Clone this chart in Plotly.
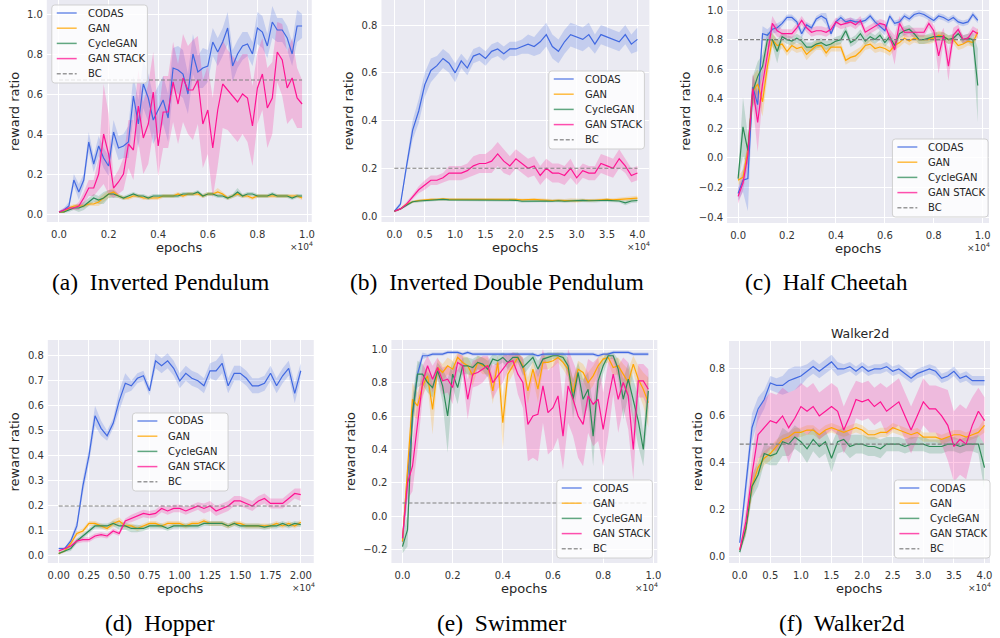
import numpy as np
import plotly.graph_objects as go

# ---------------- data (x in units of 1e4 epochs) ----------------
X_A = np.round(np.arange(50) * 0.02, 2)
X_B = np.round(np.arange(41) * 0.1, 2)
X_C = np.round(np.arange(50) * 0.02, 2)
X_D = np.round(np.arange(41) * 0.05, 2)
X_E = np.round(np.arange(50) * 0.02, 2)
X_F = np.round(np.arange(41) * 0.1, 2)

# (a) Inverted Pendulum
CODAS_A = [0.01,0.02,0.04,0.17,0.11,0.17,0.36,0.25,0.34,0.28, 0.24,0.41,0.33,0.34,0.36,0.59,0.45,0.65,0.58,0.47,
           0.52,0.57,0.48,0.73,0.72,0.70,0.60,0.80,0.71,0.73, 0.74,0.86,0.81,0.86,0.93,0.74,0.80,0.84,0.85,0.80,
           0.93,0.91,0.84,0.96,0.92,0.92,0.88,0.80,0.94,0.94]
GAN_A = [0.01,0.01,0.03,0.04,0.04,0.04,0.05,0.05,0.06,0.08, 0.10,0.11,0.09,0.08,0.08,0.09,0.09,0.08,0.08,0.08,
         0.08,0.09,0.09,0.09,0.10,0.09,0.10,0.10,0.10,0.09, 0.10,0.10,0.11,0.10,0.08,0.09,0.10,0.09,0.09,0.08,
         0.09,0.09,0.09,0.09,0.09,0.09,0.09,0.09,0.09,0.08]
CYCLE_A = [0.01,0.01,0.02,0.03,0.03,0.04,0.06,0.08,0.07,0.08, 0.10,0.10,0.09,0.08,0.09,0.10,0.09,0.09,0.08,0.09,
           0.09,0.09,0.09,0.09,0.09,0.10,0.10,0.10,0.11,0.09, 0.10,0.10,0.09,0.09,0.08,0.09,0.11,0.09,0.10,0.10,
           0.09,0.09,0.09,0.10,0.09,0.09,0.09,0.08,0.09,0.09]
STACK_A = [0.01,0.02,0.03,0.03,0.04,0.08,0.13,0.13,0.20,0.40, 0.30,0.13,0.16,0.20,0.35,0.32,0.54,0.38,0.45,0.61,
           0.34,0.51,0.51,0.66,0.55,0.68,0.62,0.62,0.67,0.45, 0.52,0.33,0.52,0.65,0.62,0.59,0.56,0.60,0.58,0.44,
           0.63,0.70,0.53,0.58,0.81,0.77,0.63,0.68,0.58,0.55]
BC_A = 0.67
CODAS_A_W = [0.005,0.01,0.02,0.03,0.04,0.03,0.05,0.04,0.05,0.05, 0.05,0.06,0.06,0.06,0.08,0.10,0.12,0.12,0.12,0.12,
             0.12,0.12,0.12,0.10,0.12,0.12,0.10,0.10,0.08,0.10, 0.08,0.07,0.07,0.07,0.08,0.08,0.07,0.07,0.06,0.06,
             0.08,0.08,0.06,0.08,0.06,0.06,0.06,0.06,0.08,0.06]
GAN_A_W = [0.005,0.005,0.01,0.01,0.01,0.01,0.01,0.01,0.02,0.02, 0.02,0.02,0.01,0.01,0.01,0.01,0.01,0.01,0.01,0.01,
           0.01,0.01,0.01,0.01,0.01,0.01,0.01,0.01,0.01,0.01, 0.01,0.01,0.02,0.01,0.01,0.01,0.01,0.01,0.01,0.01,
           0.01,0.01,0.01,0.01,0.01,0.01,0.01,0.01,0.01,0.01]
CYCLE_A_W = [0.005,0.005,0.01,0.01,0.02,0.02,0.02,0.02,0.02,0.03, 0.02,0.02,0.01,0.01,0.01,0.01,0.01,0.01,0.01,0.01,
             0.01,0.01,0.01,0.01,0.01,0.01,0.01,0.01,0.01,0.01, 0.01,0.01,0.01,0.01,0.01,0.01,0.02,0.01,0.01,0.01,
             0.01,0.01,0.01,0.01,0.01,0.01,0.01,0.01,0.01,0.01]
STACK_A_W = [0.005,0.01,0.01,0.01,0.02,0.03,0.04,0.04,0.08,0.25, 0.20,0.05,0.06,0.08,0.12,0.15,0.18,0.18,0.20,0.20,
             0.15,0.18,0.18,0.20,0.20,0.22,0.22,0.25,0.22,0.22, 0.22,0.25,0.28,0.22,0.20,0.20,0.20,0.20,0.22,0.20,
             0.18,0.18,0.20,0.18,0.15,0.18,0.18,0.20,0.15,0.12]

# (b) Inverted Double Pendulum
CODAS_B = [0.02,0.05,0.21,0.36,0.44,0.55,0.61,0.63,0.66,0.64, 0.60,0.65,0.62,0.67,0.68,0.66,0.69,0.70,0.68,0.70,
           0.70,0.71,0.72,0.71,0.73,0.76,0.71,0.69,0.73,0.76, 0.75,0.74,0.76,0.72,0.76,0.75,0.74,0.73,0.76,0.72,0.74]
GAN_B = [0.02,0.03,0.05,0.06,0.065,0.068,0.07,0.07,0.072,0.07, 0.07,0.07,0.07,0.072,0.07,0.07,0.07,0.07,0.07,0.07,
         0.07,0.068,0.07,0.07,0.068,0.066,0.065,0.066,0.065,0.066, 0.064,0.066,0.065,0.066,0.068,0.07,0.068,0.07,0.072,0.072,0.075]
CYCLE_B = [0.02,0.03,0.045,0.06,0.063,0.065,0.067,0.068,0.07,0.068, 0.068,0.067,0.068,0.068,0.067,0.068,0.068,0.068,0.067,0.066,
           0.066,0.062,0.063,0.064,0.064,0.063,0.062,0.064,0.062,0.064, 0.065,0.066,0.064,0.063,0.065,0.066,0.064,0.063,0.055,0.063,0.065]
STACK_B = [0.02,0.03,0.05,0.08,0.11,0.13,0.15,0.15,0.16,0.18, 0.18,0.18,0.19,0.21,0.22,0.22,0.23,0.26,0.23,0.21,
           0.24,0.22,0.20,0.21,0.17,0.20,0.18,0.18,0.17,0.20, 0.16,0.19,0.18,0.18,0.22,0.21,0.20,0.24,0.21,0.17,0.18]
BC_B = 0.2
CODAS_B_W = [0.005,0.01,0.02,0.04,0.05,0.05,0.05,0.04,0.04,0.04, 0.04,0.03,0.03,0.03,0.03,0.03,0.03,0.03,0.03,0.03,
             0.03,0.03,0.04,0.04,0.05,0.05,0.05,0.05,0.05,0.05, 0.05,0.05,0.05,0.04,0.04,0.04,0.04,0.04,0.04,0.04,0.05]
GAN_B_W = [0.003,0.004,0.005,0.005,0.005,0.005,0.005,0.005,0.005,0.005, 0.005,0.005,0.005,0.005,0.005,0.005,0.005,0.005,0.005,0.005,
           0.005,0.005,0.005,0.005,0.006,0.006,0.006,0.006,0.006,0.008, 0.008,0.006,0.006,0.006,0.006,0.006,0.006,0.006,0.008,0.008,0.01]
CYCLE_B_W = [0.003,0.004,0.005,0.005,0.005,0.005,0.005,0.005,0.005,0.005, 0.005,0.005,0.005,0.005,0.005,0.005,0.005,0.005,0.005,0.006,
             0.006,0.006,0.006,0.006,0.006,0.006,0.006,0.006,0.006,0.006, 0.006,0.006,0.006,0.006,0.006,0.006,0.006,0.006,0.01,0.008,0.008]
STACK_B_W = [0.005,0.005,0.01,0.01,0.015,0.02,0.02,0.02,0.02,0.03, 0.03,0.03,0.03,0.04,0.04,0.04,0.05,0.05,0.05,0.04,
             0.04,0.04,0.04,0.04,0.04,0.04,0.04,0.04,0.04,0.04, 0.03,0.03,0.03,0.03,0.04,0.04,0.04,0.04,0.03,0.03,0.03]

# (c) Half Cheetah
CODAS_C = [-0.24,-0.15,-0.14,0.48,0.36,0.84,0.83,0.87,0.88,0.91, 0.95,0.95,0.92,0.84,0.90,0.88,0.94,0.96,0.94,0.84,
           0.92,0.95,0.92,0.93,0.92,0.92,0.93,0.96,0.92,0.89, 0.86,0.96,0.91,0.92,0.96,0.94,0.97,0.98,0.97,0.95,
           0.93,0.96,0.95,0.93,0.95,0.92,0.91,0.92,0.97,0.93]
GAN_C = [-0.15,-0.13,0.05,0.45,0.50,0.38,0.62,0.80,0.76,0.77, 0.72,0.76,0.74,0.75,0.70,0.73,0.76,0.76,0.71,0.75,
         0.75,0.75,0.66,0.68,0.69,0.72,0.76,0.77,0.74,0.75, 0.74,0.72,0.76,0.78,0.81,0.79,0.81,0.80,0.80,0.80,
         0.81,0.83,0.82,0.80,0.80,0.76,0.77,0.79,0.78,0.85]
CYCLE_C = [-0.14,0.21,0.05,0.45,0.55,0.62,0.80,0.80,0.72,0.82, 0.80,0.79,0.81,0.79,0.75,0.75,0.77,0.78,0.76,0.77,
           0.79,0.80,0.86,0.78,0.80,0.84,0.79,0.82,0.80,0.83, 0.78,0.82,0.76,0.84,0.86,0.87,0.84,0.80,0.80,0.81,
           0.82,0.82,0.82,0.80,0.81,0.84,0.80,0.81,0.80,0.49]
STACK_C = [-0.26,-0.17,0.02,0.47,0.24,0.50,0.70,0.91,0.86,0.84, 0.84,0.84,0.88,0.93,0.88,0.85,0.86,0.86,0.85,0.87,
           0.92,0.90,0.91,0.92,0.90,0.93,0.85,0.87,0.89,0.91, 0.90,0.82,0.73,0.91,0.85,0.85,0.85,0.85,0.85,0.91,
           0.86,0.69,0.83,0.62,0.83,0.87,0.80,0.81,0.86,0.84]
BC_C = 0.8
CODAS_C_W = [0.05,0.08,0.22,0.08,0.08,0.05,0.04,0.03,0.03,0.02, 0.02,0.02,0.02,0.03,0.02,0.02,0.02,0.02,0.04,0.02,
             0.02,0.02,0.02,0.02,0.02,0.02,0.02,0.02,0.02,0.03, 0.03,0.02,0.02,0.02,0.02,0.02,0.02,0.02,0.02,0.02,
             0.02,0.02,0.02,0.02,0.02,0.02,0.02,0.02,0.02,0.02]
GAN_C_W = [0.03,0.05,0.06,0.10,0.10,0.10,0.08,0.05,0.04,0.03, 0.03,0.03,0.03,0.03,0.04,0.03,0.03,0.03,0.03,0.03,
           0.03,0.03,0.03,0.03,0.04,0.03,0.03,0.03,0.03,0.03, 0.03,0.03,0.03,0.03,0.03,0.03,0.03,0.03,0.03,0.03,
           0.03,0.03,0.03,0.03,0.03,0.03,0.03,0.03,0.03,0.03]
CYCLE_C_W = [0.03,0.20,0.10,0.10,0.10,0.08,0.05,0.04,0.08,0.03, 0.03,0.03,0.03,0.03,0.03,0.03,0.03,0.03,0.03,0.03,
             0.03,0.03,0.03,0.03,0.03,0.03,0.03,0.03,0.03,0.03, 0.03,0.03,0.03,0.03,0.03,0.03,0.03,0.03,0.03,0.03,
             0.03,0.03,0.03,0.03,0.03,0.03,0.03,0.03,0.05,0.25]
STACK_C_W = [0.05,0.05,0.08,0.10,0.20,0.10,0.08,0.05,0.04,0.03, 0.03,0.03,0.03,0.03,0.03,0.03,0.03,0.03,0.03,0.03,
             0.03,0.03,0.03,0.03,0.03,0.03,0.03,0.03,0.03,0.03, 0.03,0.05,0.10,0.05,0.03,0.03,0.03,0.03,0.03,0.03,
             0.04,0.12,0.05,0.10,0.05,0.03,0.03,0.03,0.03,0.03]

# (d) Hopper
CODAS_D = [0.03,0.03,0.06,0.12,0.28,0.40,0.56,0.51,0.48,0.53, 0.62,0.69,0.68,0.71,0.72,0.66,0.78,0.76,0.78,0.75,
           0.70,0.73,0.71,0.70,0.68,0.74,0.74,0.77,0.68,0.73, 0.73,0.71,0.68,0.68,0.69,0.73,0.68,0.72,0.75,0.65,0.74]
GAN_D = [0.01,0.02,0.05,0.09,0.10,0.13,0.13,0.12,0.11,0.13, 0.14,0.12,0.12,0.11,0.12,0.13,0.13,0.12,0.13,0.13,
         0.13,0.12,0.13,0.13,0.14,0.13,0.13,0.13,0.12,0.13, 0.13,0.12,0.12,0.12,0.12,0.12,0.13,0.12,0.13,0.12,0.135]
CYCLE_D = [0.01,0.02,0.03,0.06,0.08,0.10,0.12,0.12,0.12,0.13, 0.12,0.12,0.11,0.11,0.11,0.12,0.12,0.12,0.11,0.12,
           0.12,0.12,0.12,0.12,0.13,0.13,0.13,0.13,0.12,0.13, 0.12,0.12,0.12,0.12,0.115,0.12,0.12,0.13,0.12,0.13,0.125]
STACK_D = [0.02,0.03,0.04,0.06,0.065,0.065,0.08,0.085,0.08,0.10, 0.09,0.14,0.15,0.16,0.17,0.165,0.17,0.19,0.18,0.19,
           0.19,0.18,0.19,0.20,0.19,0.20,0.18,0.19,0.20,0.22, 0.22,0.21,0.20,0.22,0.23,0.21,0.21,0.21,0.23,0.25,0.245]
BC_D = 0.2
CODAS_D_W = [0.005,0.005,0.01,0.02,0.03,0.03,0.04,0.03,0.02,0.02, 0.04,0.04,0.02,0.02,0.02,0.02,0.03,0.03,0.03,0.03,
             0.03,0.03,0.03,0.03,0.03,0.03,0.04,0.04,0.03,0.03, 0.03,0.03,0.03,0.03,0.03,0.03,0.03,0.03,0.03,0.04,0.03]
GAN_D_W = [0.005,0.005,0.01,0.01,0.01,0.01,0.01,0.01,0.01,0.015, 0.015,0.01,0.01,0.01,0.01,0.01,0.01,0.01,0.01,0.01,
           0.01,0.01,0.01,0.01,0.01,0.01,0.01,0.01,0.01,0.01, 0.01,0.01,0.01,0.01,0.01,0.01,0.01,0.01,0.01,0.01,0.01]
CYCLE_D_W = [0.005,0.005,0.01,0.01,0.01,0.01,0.01,0.01,0.01,0.01, 0.015,0.015,0.015,0.015,0.01,0.01,0.01,0.01,0.01,0.01,
             0.01,0.01,0.01,0.01,0.01,0.01,0.01,0.01,0.01,0.01, 0.01,0.01,0.01,0.01,0.01,0.01,0.01,0.01,0.01,0.01,0.01]
STACK_D_W = [0.005,0.005,0.01,0.01,0.01,0.01,0.01,0.01,0.01,0.01, 0.01,0.01,0.015,0.015,0.015,0.015,0.015,0.015,0.015,0.015,
             0.015,0.015,0.015,0.015,0.02,0.02,0.02,0.02,0.02,0.02, 0.02,0.02,0.02,0.02,0.02,0.02,0.02,0.02,0.02,0.02,0.025]

# (e) Swimmer
CODAS_E = [-0.15,0.20,0.60,0.85,0.96,0.96,0.97,0.97,0.97,0.98, 0.98,0.98,0.97,0.98,0.97,0.97,0.97,0.97,0.97,0.97,
           0.97,0.97,0.97,0.97,0.97,0.97,0.97,0.96,0.97,0.97, 0.97,0.97,0.97,0.97,0.97,0.97,0.97,0.97,0.97,0.96,
           0.97,0.97,0.98,0.98,0.98,0.98,0.97,0.97,0.97,0.97]
GAN_E = [-0.15,0.25,0.70,0.66,0.78,0.84,0.64,0.89,0.86,0.90, 0.88,0.95,0.92,0.90,0.84,0.92,0.90,0.90,0.75,0.92,
         0.56,0.85,0.90,0.95,0.90,0.75,0.88,0.76,0.92,0.92, 0.93,0.95,0.92,0.88,0.74,0.88,0.86,0.80,0.84,0.90,
         0.94,0.95,0.89,0.90,0.85,0.80,0.91,0.82,0.76,0.68]
CYCLE_E = [-0.18,-0.08,0.62,0.85,0.85,0.80,0.77,0.87,0.78,0.60, 0.85,0.77,0.90,0.90,0.89,0.92,0.91,0.88,0.94,0.93,
           0.95,0.92,0.95,0.95,0.89,0.92,0.95,0.88,0.94,0.95, 0.96,0.96,0.95,0.90,0.70,0.86,0.70,0.76,0.48,0.81,
           0.90,0.96,0.96,0.88,0.70,0.82,0.70,0.57,0.40,0.75]
STACK_E = [-0.13,0.20,0.30,0.55,0.80,0.90,0.82,0.89,0.81,0.82, 0.77,0.92,0.90,0.70,0.85,0.86,0.88,0.90,0.80,0.84,
           0.88,0.92,0.93,0.85,0.80,0.55,0.60,0.61,0.78,0.62, 0.65,0.72,0.48,0.78,0.70,0.60,0.55,0.72,0.67,0.70,
           0.52,0.70,0.85,0.70,0.80,0.72,0.40,0.81,0.81,0.76]
BC_E = 0.08
CODAS_E_W = [0.04,0.10,0.10,0.05,0.02,0.01,0.01,0.01,0.01,0.01, 0.01,0.01,0.01,0.01,0.01,0.01,0.01,0.01,0.01,0.01,
             0.01,0.01,0.01,0.01,0.01,0.01,0.01,0.01,0.01,0.01, 0.01,0.01,0.01,0.01,0.01,0.01,0.01,0.01,0.01,0.01,
             0.01,0.01,0.01,0.01,0.01,0.01,0.01,0.01,0.01,0.01]
GAN_E_W = [0.05,0.10,0.10,0.08,0.06,0.06,0.15,0.05,0.05,0.05, 0.05,0.03,0.04,0.05,0.06,0.04,0.05,0.05,0.08,0.04,
           0.16,0.06,0.05,0.03,0.05,0.08,0.05,0.08,0.04,0.04, 0.04,0.03,0.04,0.05,0.08,0.05,0.05,0.06,0.06,0.05,
           0.03,0.03,0.05,0.05,0.06,0.08,0.05,0.08,0.10,0.15]
CYCLE_E_W = [0.04,0.10,0.10,0.08,0.06,0.06,0.06,0.05,0.10,0.22, 0.08,0.10,0.05,0.05,0.05,0.04,0.04,0.05,0.03,0.03,
             0.03,0.04,0.03,0.03,0.05,0.04,0.03,0.05,0.03,0.03, 0.02,0.02,0.03,0.05,0.12,0.06,0.12,0.10,0.18,0.08,
             0.05,0.02,0.02,0.06,0.12,0.10,0.12,0.15,0.10,0.12]
STACK_E_W = [0.05,0.10,0.15,0.15,0.10,0.06,0.08,0.06,0.08,0.08, 0.10,0.05,0.06,0.12,0.08,0.08,0.08,0.06,0.10,0.08,
             0.08,0.05,0.05,0.12,0.15,0.22,0.25,0.28,0.22,0.25, 0.25,0.25,0.20,0.22,0.22,0.25,0.25,0.22,0.25,0.25,
             0.22,0.22,0.12,0.20,0.15,0.20,0.18,0.10,0.10,0.12]

# (f) Walker2d
CODAS_F = [0.06,0.30,0.55,0.63,0.67,0.74,0.73,0.73,0.75,0.76, 0.77,0.79,0.81,0.79,0.81,0.83,0.80,0.80,0.81,0.79,
           0.81,0.79,0.80,0.80,0.81,0.79,0.80,0.78,0.76,0.78, 0.79,0.80,0.79,0.76,0.77,0.79,0.76,0.77,0.75,0.75,0.75]
GAN_F = [0.03,0.12,0.30,0.38,0.42,0.44,0.47,0.50,0.51,0.53, 0.53,0.54,0.54,0.52,0.54,0.55,0.54,0.53,0.54,0.55,
         0.54,0.52,0.52,0.53,0.53,0.55,0.54,0.53,0.52,0.53, 0.51,0.51,0.51,0.50,0.51,0.52,0.52,0.51,0.52,0.53,0.56]
CYCLE_F = [0.02,0.12,0.30,0.35,0.44,0.43,0.44,0.49,0.48,0.51, 0.49,0.46,0.50,0.47,0.49,0.42,0.49,0.50,0.47,0.48,
           0.48,0.47,0.47,0.46,0.48,0.48,0.48,0.47,0.48,0.48, 0.48,0.47,0.47,0.47,0.48,0.48,0.47,0.48,0.48,0.48,0.38]
STACK_F = [0.03,0.15,0.35,0.52,0.55,0.58,0.57,0.60,0.55,0.59, 0.64,0.62,0.64,0.60,0.62,0.64,0.62,0.54,0.60,0.67,
           0.66,0.67,0.64,0.66,0.62,0.64,0.66,0.60,0.54,0.60, 0.66,0.63,0.63,0.60,0.56,0.47,0.50,0.48,0.56,0.62,0.58]
BC_F = 0.48
CODAS_F_W = [0.02,0.05,0.06,0.05,0.04,0.03,0.03,0.04,0.05,0.05, 0.04,0.03,0.03,0.03,0.03,0.03,0.03,0.02,0.02,0.02,
             0.02,0.02,0.02,0.02,0.02,0.02,0.02,0.02,0.02,0.02, 0.02,0.02,0.02,0.02,0.02,0.02,0.02,0.02,0.02,0.02,0.02]
GAN_F_W = [0.01,0.03,0.04,0.04,0.03,0.03,0.03,0.02,0.02,0.02, 0.02,0.02,0.02,0.02,0.02,0.02,0.02,0.02,0.02,0.02,
           0.02,0.02,0.02,0.02,0.02,0.02,0.02,0.02,0.02,0.02, 0.02,0.02,0.02,0.02,0.02,0.02,0.02,0.02,0.02,0.02,0.03]
CYCLE_F_W = [0.01,0.03,0.05,0.05,0.04,0.04,0.05,0.06,0.05,0.05, 0.05,0.06,0.05,0.05,0.05,0.06,0.05,0.05,0.05,0.04,
             0.04,0.04,0.04,0.04,0.03,0.03,0.03,0.03,0.03,0.03, 0.03,0.03,0.03,0.03,0.03,0.03,0.03,0.03,0.03,0.04,0.10]
STACK_F_W = [0.01,0.05,0.08,0.10,0.12,0.12,0.12,0.12,0.15,0.12, 0.10,0.10,0.10,0.10,0.10,0.10,0.10,0.10,0.10,0.08,
             0.08,0.08,0.08,0.08,0.10,0.10,0.10,0.10,0.10,0.10, 0.10,0.10,0.10,0.12,0.15,0.15,0.15,0.15,0.12,0.10,0.10]

NAMES = ["CODAS", "GAN", "CycleGAN", "GAN STACK"]
LEGEND_LABELS = ["CODAS", "GAN", "CycleGAN", "GAN STACK", "BC"]
COLORS = {"CODAS": (65, 105, 225), "GAN": (255, 165, 0), "CycleGAN": (46, 139, 87), "GAN STACK": (255, 20, 147)}
BC_COLOR = "#808080"

CAPTIONS = ["(a)  Inverted Pendulum", "(b)  Inverted Double Pendulum", "(c)  Half Cheetah",
            "(d)  Hopper", "(e)  Swimmer", "(f)  Walker2d"]

W, H = 1000, 638
def px(v):
    return v / W
def py(v):
    return 1 - v / H

panels = [
    dict(x=X_A, s=[(CODAS_A, CODAS_A_W), (GAN_A, GAN_A_W), (CYCLE_A, CYCLE_A_W), (STACK_A, STACK_A_W)], bc=BC_A,
         dx=(47, 313), dy=(0, 222), xr=(-0.049, 1.019), yr=(-0.04, 1.07),
         xt=[0, 0.2, 0.4, 0.6, 0.8, 1.0], yt=[0, 0.2, 0.4, 0.6, 0.8, 1.0], xf=".1f", yf=".1f",
         leg=(52, 5), ylab_x=15, cap=(161, 282)),
    dict(x=X_B, s=[(CODAS_B, CODAS_B_W), (GAN_B, GAN_B_W), (CYCLE_B, CYCLE_B_W), (STACK_B, STACK_B_W)], bc=BC_B,
         dx=(383, 652), dy=(0, 222), xr=(-0.213, 4.197), yr=(-0.025, 0.905),
         xt=[0, 0.5, 1, 1.5, 2, 2.5, 3, 3.5, 4], yt=[0, 0.2, 0.4, 0.6, 0.8], xf=".1f", yf=".1f",
         leg=(551, 71), ylab_x=350, cap=(499, 282)),
    dict(x=X_C, s=[(CODAS_C, CODAS_C_W), (GAN_C, GAN_C_W), (CYCLE_C, CYCLE_C_W), (STACK_C, STACK_C_W)], bc=BC_C,
         dx=(730, 993), dy=(0, 223), xr=(-0.045, 1.026), yr=(-0.44, 1.068),
         xt=[0, 0.2, 0.4, 0.6, 0.8, 1.0], yt=[-0.4, -0.2, 0, 0.2, 0.4, 0.6, 0.8, 1.0], xf=".1f", yf=".1f",
         leg=(896, 139), ylab_x=688, cap=(830, 282)),
    dict(x=X_D, s=[(CODAS_D, CODAS_D_W), (GAN_D, GAN_D_W), (CYCLE_D, CYCLE_D_W), (STACK_D, STACK_D_W)], bc=BC_D,
         dx=(48, 315), dy=(340, 563), xr=(-0.09, 2.107), yr=(-0.028, 0.863),
         xt=[0, 0.25, 0.5, 0.75, 1, 1.25, 1.5, 1.75, 2], yt=[0, 0.1, 0.2, 0.3, 0.4, 0.5, 0.6, 0.7, 0.8], xf=".2f", yf=".1f",
         leg=(133, 413), ylab_x=15, cap=(161, 623)),
    dict(x=X_E, s=[(CODAS_E, CODAS_E_W), (GAN_E, GAN_E_W), (CYCLE_E, CYCLE_E_W), (STACK_E, STACK_E_W)], bc=BC_E,
         dx=(393, 660), dy=(340, 563), xr=(-0.044, 1.016), yr=(-0.278, 1.054),
         xt=[0, 0.2, 0.4, 0.6, 0.8, 1.0], yt=[-0.2, 0, 0.2, 0.4, 0.6, 0.8, 1.0], xf=".1f", yf=".1f",
         leg=(559, 480), ylab_x=352, cap=(504, 623)),
    dict(x=X_F, s=[(CODAS_F, CODAS_F_W), (GAN_F, GAN_F_W), (CYCLE_F, CYCLE_F_W), (STACK_F, STACK_F_W)], bc=BC_F,
         dx=(732, 994), dy=(341, 563), xr=(-0.174, 4.09), yr=(-0.026, 0.919),
         xt=[0, 0.5, 1, 1.5, 2, 2.5, 3, 3.5, 4], yt=[0, 0.2, 0.4, 0.6, 0.8], xf=".1f", yf=".1f",
         leg=(898, 480), ylab_x=700, cap=(845, 623)),
]

TICK_FONT = dict(family="DejaVu Sans", size=10, color="#333333")
LAB_FONT = dict(family="DejaVu Sans", size=13, color="#262626")
LEG_W, LEG_H, LEG_ROW = 96, 78, 15.2

def rounded_rect(l, t, r, b, rad=3):
    pts = lambda x, y: f"{px(x):.5f},{py(y):.5f}"
    return (f"M {pts(l+rad, t)} L {pts(r-rad, t)} Q {pts(r, t)} {pts(r, t+rad)} "
            f"L {pts(r, b-rad)} Q {pts(r, b)} {pts(r-rad, b)} L {pts(l+rad, b)} "
            f"Q {pts(l, b)} {pts(l, b-rad)} L {pts(l, t+rad)} Q {pts(l, t)} {pts(l+rad, t)} Z")

fig = go.Figure()
layout = dict(width=W, height=H, margin=dict(l=0, r=0, t=0, b=0), paper_bgcolor="white",
              plot_bgcolor="#EAEAF2", showlegend=False)
annotations = []
shapes = []

for i, p in enumerate(panels):
    k = i + 1
    xa = "x" if k == 1 else f"x{k}"
    ya = "y" if k == 1 else f"y{k}"
    x = np.asarray(p["x"], dtype=float)
    for name, (vals, wid) in zip(NAMES, p["s"]):
        v = np.asarray(vals, dtype=float)
        w = np.asarray(wid, dtype=float)
        r, g, b = COLORS[name]
        fig.add_trace(go.Scatter(x=np.concatenate([x, x[::-1]]), y=np.concatenate([v + w, (v - w)[::-1]]),
                                 fill="toself", fillcolor=f"rgba({r},{g},{b},0.22)", line=dict(width=0),
                                 mode="lines", hoverinfo="skip", showlegend=False, xaxis=xa, yaxis=ya))
    for name, (vals, wid) in zip(NAMES, p["s"]):
        r, g, b = COLORS[name]
        fig.add_trace(go.Scatter(x=x, y=vals, mode="lines", name=name,
                                 line=dict(color=f"rgb({r},{g},{b})", width=1.2),
                                 xaxis=xa, yaxis=ya, showlegend=False))
    fig.add_trace(go.Scatter(x=[x[0], x[-1]], y=[p["bc"], p["bc"]], mode="lines", name="BC",
                             line=dict(color=BC_COLOR, width=1.1, dash="4px,2px"),
                             xaxis=xa, yaxis=ya, showlegend=False))

    axx = dict(domain=[px(p["dx"][0]), px(p["dx"][1])], range=list(p["xr"]), anchor=ya,
               tickvals=p["xt"], tickformat=p["xf"], showgrid=True, gridcolor="white", gridwidth=1,
               zeroline=False, showline=False, ticks="", tickfont=TICK_FONT, ticklabelstandoff=5)
    axy = dict(domain=[py(p["dy"][1]), py(p["dy"][0])], range=list(p["yr"]), anchor=xa,
               tickvals=p["yt"], tickformat=p["yf"], showgrid=True, gridcolor="white", gridwidth=1,
               zeroline=False, showline=False, ticks="", tickfont=TICK_FONT, ticklabelstandoff=3)
    layout["xaxis" if k == 1 else f"xaxis{k}"] = axx
    layout["yaxis" if k == 1 else f"yaxis{k}"] = axy

    # legend box drawn like matplotlib's (rounded frame, short handles)
    L, T = p["leg"]
    shapes.append(dict(type="path", path=rounded_rect(L, T, L + LEG_W, T + LEG_H), xref="paper", yref="paper",
                       fillcolor="rgba(255,255,255,0.8)", line=dict(color="rgba(204,204,204,0.9)", width=1),
                       layer="above"))
    for j, lab in enumerate(LEGEND_LABELS):
        cy = T + 8 + j * LEG_ROW
        if lab == "BC":
            col, dash = "rgba(128,128,128,0.8)", "4px,2px"
        else:
            r, g, b = COLORS[lab]
            col, dash = f"rgba({r},{g},{b},0.75)", "solid"
        shapes.append(dict(type="line", x0=px(L + 5), x1=px(L + 25), y0=py(cy), y1=py(cy), xref="paper", yref="paper",
                           line=dict(color=col, width=1.5, dash=dash), layer="above"))
        annotations.append(dict(text=lab, x=px(L + 34), y=py(cy), xref="paper", yref="paper", showarrow=False,
                                font=dict(family="DejaVu Sans", size=10, color="#262626"),
                                xanchor="left", yanchor="middle"))

    cx = (p["dx"][0] + p["dx"][1]) / 2
    cy = (p["dy"][0] + p["dy"][1]) / 2
    bottom = p["dy"][1]
    annotations.append(dict(text="epochs", x=px(cx), y=py(bottom + 25), xref="paper", yref="paper",
                            showarrow=False, font=LAB_FONT, xanchor="center", yanchor="middle"))
    annotations.append(dict(text="×10<sup>4</sup>", x=px(p["dx"][1] + 3), y=py(bottom + 24), xref="paper", yref="paper",
                            showarrow=False, font=dict(family="DejaVu Sans", size=9, color="#333333"),
                            xanchor="right", yanchor="middle"))
    annotations.append(dict(text="reward ratio", x=px(p["ylab_x"]), y=py(cy), xref="paper", yref="paper",
                            showarrow=False, font=LAB_FONT, textangle=-90, xanchor="center", yanchor="middle"))
    annotations.append(dict(text=CAPTIONS[i], x=px(p["cap"][0]), y=py(p["cap"][1]), xref="paper", yref="paper",
                            showarrow=False, font=dict(family="Liberation Serif", size=23.5, color="black"),
                            xanchor="center", yanchor="middle"))

annotations.append(dict(text="Walker2d", x=px(863), y=py(333), xref="paper", yref="paper", showarrow=False,
                        font=dict(family="DejaVu Sans", size=12.5, color="#262626"), xanchor="center", yanchor="middle"))
layout["annotations"] = annotations
layout["shapes"] = shapes
fig.update_layout(**layout)
fig.write_html("out.html", config={"displayModeBar": False},
               post_script="document.body.style.margin='0';document.body.style.overflow='hidden';")
